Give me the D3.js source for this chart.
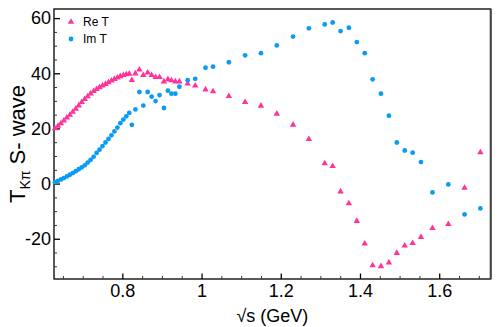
<!DOCTYPE html>
<html>
<head>
<meta charset="utf-8">
<script src="https://cdn.jsdelivr.net/npm/d3@7"></script>
<style>
  body { margin: 0; background: #fff; }
  text { font-family: "Liberation Sans", Arial, sans-serif; }
</style>
</head>
<body>
<div id="chart"></div>
<script>
// dense low-energy points
var lowMass = [0.630, 0.6375, 0.645, 0.6525, 0.660, 0.6675, 0.675, 0.6825, 0.690, 0.6975,
  0.705, 0.7125, 0.720, 0.7275, 0.735, 0.7425, 0.750, 0.7575, 0.765, 0.7725,
  0.780, 0.7875, 0.795, 0.8025, 0.810, 0.8175];
var lowRe = [20.0, 20.9, 21.8, 22.8, 23.9, 24.9, 26.0, 27.1, 28.3, 29.5,
  30.6, 31.6, 32.6, 33.5, 34.2, 34.9, 35.5, 36.1, 36.7, 37.3,
  37.9, 38.4, 38.9, 39.3, 39.6, 39.8];
var lowIm = [0.5, 1.0, 1.5, 2.0, 2.6, 3.2, 3.8, 4.5, 5.2, 5.9,
  6.6, 7.6, 8.6, 9.7, 11.1, 12.3, 13.6, 14.9, 16.2, 17.5,
  18.9, 20.3, 21.9, 23.2, 24.4, 25.6];

// scattered points above 0.82 GeV
var highMass = [0.824, 0.833, 0.843, 0.853, 0.864, 0.874, 0.884, 0.894, 0.905, 0.915,
  0.924, 0.934, 0.944, 0.965, 0.984, 1.010, 1.029, 1.069, 1.110, 1.150,
  1.190, 1.231, 1.271, 1.311, 1.331, 1.351, 1.372, 1.392, 1.412, 1.432,
  1.453, 1.473, 1.493, 1.513, 1.533, 1.554, 1.583, 1.623, 1.664, 1.704];
var highRe = [37.5, 39.9, 41.3, 39.3, 40.2, 39.3, 38.6, 38.6, 37.0, 37.8,
  37.4, 37.0, 37.0, 36.2, 35.5, 34.1, 33.4, 31.7, 29.5, 28.2,
  25.3, 21.3, 16.1, 7.3, 6.3, -2.9, -7.2, -13.6, -21.8, -29.7,
  -30.0, -28.7, -25.2, -22.5, -21.6, -19.4, -16.2, -14.7, -1.6, 11.3];
var highIm = [21.3, 26.9, 33.2, 28.3, 33.2, 31.5, 29.9, 32.1, 27.4, 33.7,
  32.6, 32.6, 35.1, 37.5, 38.0, 42.0, 42.4, 44.0, 46.5, 47.3,
  50.1, 53.3, 56.3, 57.7, 58.4, 55.3, 56.5, 51.3, 47.3, 37.8,
  32.6, 24.6, 14.9, 12.0, 11.2, 7.8, -3.2, -0.3, -11.2, -9.0];

var seriesNames = ["Re T", "Im T"];
var seriesColors = ["#ff3399", "#0a9bf5"];

var xMajor = [0.8, 1.0, 1.2, 1.4, 1.6];
var yMajor = [-20, 0, 20, 40, 60];

(function() {
  var width = 498,
      height = 327,
      left = 54, right = 490.7, top = 9, bottom = 279;

  var mass = lowMass.concat(highMass),
      reT = lowRe.concat(highRe),
      imT = lowIm.concat(highIm);

  var points = mass.map(function(m, i) {
    return { m: m, re: reT[i], im: imT[i] };
  });

  var svg = d3.select("#chart")
      .append("svg")
      .attr("width", width)
      .attr("height", height);

  var x = d3.scaleLinear()
    .domain([0.6275, 1.73])
    .range([left, right]);

  var y = d3.scaleLinear()
    .domain([-34.6, 63.3])
    .range([bottom, top]);

  var xMinor = d3.range(0.65, 1.7001, 0.05).filter(function(v) {
    return xMajor.every(function(t) { return Math.abs(t - v) > 1e-6; });
  });
  var yMinor = d3.range(-30, 61, 5).filter(function(v) { return v % 20 !== 0; });

  // frame
  svg.append("rect")
    .attr("x", left)
    .attr("y", top)
    .attr("width", right - left)
    .attr("height", bottom - top)
    .attr("fill", "none")
    .attr("stroke", "#000")
    .attr("stroke-width", 1.3);
  svg.append("line")
    .attr("x1", right).attr("x2", right)
    .attr("y1", top).attr("y2", bottom)
    .attr("stroke", "#444")
    .attr("stroke-width", 2);

  // x axis, ticks pointing inward
  var xAxis = svg.append("g")
    .attr("transform", "translate(0," + bottom + ")")
    .call(d3.axisTop(x).tickValues(xMajor).tickSize(5.5).tickFormat(function(d) { return d3.format("~g")(d); }));
  xAxis.select(".domain").remove();
  xAxis.selectAll("line").attr("stroke", "#000").attr("stroke-width", 1.3);
  xAxis.selectAll("text")
    .attr("y", 18)
    .attr("dy", 0)
    .attr("font-size", 18)
    .attr("fill", "#000");

  svg.append("g")
    .attr("transform", "translate(0," + bottom + ")")
    .call(d3.axisTop(x).tickValues(xMinor).tickSize(3).tickFormat(""))
    .call(function(g) { g.select(".domain").remove(); })
    .selectAll("line").attr("stroke", "#333");

  // y axis
  var yAxis = svg.append("g")
    .attr("transform", "translate(" + left + ",0)")
    .call(d3.axisRight(y).tickValues(yMajor).tickSize(6).tickFormat(function(d) { return String(d); }));
  yAxis.select(".domain").remove();
  yAxis.selectAll("line").attr("stroke", "#000").attr("stroke-width", 1.3);
  yAxis.selectAll("text")
    .attr("x", -3)
    .attr("text-anchor", "end")
    .attr("font-size", 18)
    .attr("fill", "#000");

  svg.append("g")
    .attr("transform", "translate(" + left + ",0)")
    .call(d3.axisRight(y).tickValues(yMinor).tickSize(3).tickFormat(""))
    .call(function(g) { g.select(".domain").remove(); })
    .selectAll("line").attr("stroke", "#333");

  // axis titles
  svg.append("text")
    .attr("x", (left + right) / 2)
    .attr("y", 322)
    .attr("text-anchor", "middle")
    .attr("font-size", 18)
    .text("\u221As (GeV)");

  var yTitle = svg.append("text")
    .attr("transform", "translate(25," + ((top + bottom) / 2) + ") rotate(-90)")
    .attr("text-anchor", "middle")
    .attr("font-size", 22);
  yTitle.append("tspan").text("T");
  yTitle.append("tspan").attr("font-size", 14).attr("dy", 5).text("K\u03C0");
  yTitle.append("tspan").attr("dy", -5).text(" S- wave");

  // markers
  var tri = d3.symbol().type(d3.symbolTriangle).size(18);

  svg.append("g").selectAll("path")
    .data(points)
    .enter().append("path")
    .attr("d", tri)
    .attr("transform", function(d) {
      return "translate(" + x(d.m) + "," + y(d.re) + ")";
    })
    .attr("fill", seriesColors[0]);

  svg.append("g").selectAll("circle")
    .data(points)
    .enter().append("circle")
    .attr("cx", function(d) { return x(d.m); })
    .attr("cy", function(d) { return y(d.im); })
    .attr("r", 2.4)
    .attr("fill", seriesColors[1]);

  // legend
  var legend = svg.append("g").attr("transform", "translate(71,22)");
  legend.append("path")
    .attr("d", tri)
    .attr("fill", seriesColors[0]);
  legend.append("circle")
    .attr("cy", 17)
    .attr("r", 2.4)
    .attr("fill", seriesColors[1]);
  legend.selectAll("text")
    .data(seriesNames)
    .enter().append("text")
    .attr("x", 12)
    .attr("y", function(d, i) { return i * 17 + 4; })
    .attr("font-size", 12)
    .text(function(d) { return d; });
})();
</script>
</body>
</html>
